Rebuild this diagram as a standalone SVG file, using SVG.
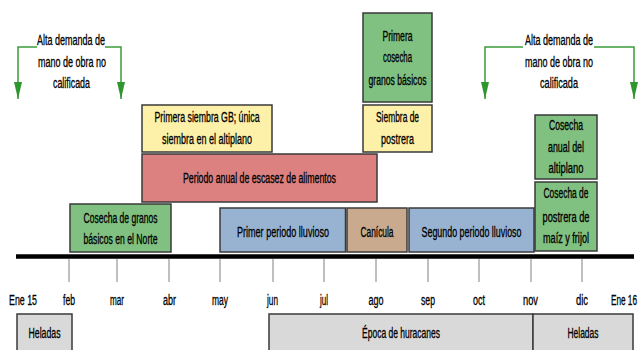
<svg xmlns="http://www.w3.org/2000/svg" width="642" height="350" viewBox="0 0 642 350">
<style>
text{font-family:"Liberation Sans Narrow","Liberation Sans",Arial,sans-serif;font-size:14px;fill:#000;text-anchor:middle;stroke:#000;stroke-width:0.3}
.box{stroke:#3a3a3a;stroke-width:1.5}
.g{fill:#80c080}
.y{fill:#fdf0a8}
.r{fill:#dc8080}
.b{fill:#98b3d2}
.t{fill:#c9aa8f}
.gr{fill:#d9d9d9}
.tick{stroke:#808080;stroke-width:1}
.arr{fill:none;stroke:#3a9d3a;stroke-width:1.5}
</style>
<defs>
<marker id="ah" viewBox="0 0 17 8" refX="17" refY="4" markerWidth="17" markerHeight="8" markerUnits="userSpaceOnUse" orient="auto">
<path d="M0,0 L17,4 L0,8 z" fill="#2f962f"/>
</marker>
</defs>
<rect width="642" height="350" fill="#fff"/>

<g id="connectors">
<path class="arr" d="M37,47 H18 V99" marker-end="url(#ah)"/>
<path class="arr" d="M105,47 H121 V99" marker-end="url(#ah)"/>
<path class="arr" d="M523,47 H485 V99" marker-end="url(#ah)"/>
<path class="arr" d="M594,47 H634 V99" marker-end="url(#ah)"/>
</g>

<g id="demanda-izq">
<text x="71" y="45" textLength="68" lengthAdjust="spacingAndGlyphs">Alta demanda de</text>
<text x="72" y="67" textLength="68" lengthAdjust="spacingAndGlyphs">mano de obra no</text>
<text x="71.5" y="88" textLength="37" lengthAdjust="spacingAndGlyphs">calificada</text>
</g>
<g id="demanda-der">
<text x="559" y="45" textLength="68" lengthAdjust="spacingAndGlyphs">Alta demanda de</text>
<text x="559" y="67" textLength="68" lengthAdjust="spacingAndGlyphs">mano de obra no</text>
<text x="559" y="88" textLength="38" lengthAdjust="spacingAndGlyphs">calificada</text>
</g>

<g id="primera-cosecha">
<rect class="box g" x="363" y="13" width="69" height="89"/>
<text x="397.5" y="41" textLength="30" lengthAdjust="spacingAndGlyphs">Primera</text>
<text x="397.5" y="62" textLength="29" lengthAdjust="spacingAndGlyphs">cosecha</text>
<text x="397.5" y="85" textLength="58" lengthAdjust="spacingAndGlyphs">granos básicos</text>
</g>
<g id="siembra-postrera">
<rect class="box y" x="363" y="105" width="69" height="47"/>
<text x="397.5" y="122" textLength="43" lengthAdjust="spacingAndGlyphs">Siembra de</text>
<text x="397.5" y="144" textLength="33" lengthAdjust="spacingAndGlyphs">postrera</text>
</g>
<g id="primera-siembra">
<rect class="box y" x="142" y="105" width="130" height="47"/>
<text x="207" y="122" textLength="105" lengthAdjust="spacingAndGlyphs">Primera siembra GB; única</text>
<text x="207" y="144" textLength="90" lengthAdjust="spacingAndGlyphs">siembra en el altiplano</text>
</g>
<g id="escasez">
<rect class="box r" x="142" y="154" width="235" height="48"/>
<text x="259.5" y="183" textLength="153" lengthAdjust="spacingAndGlyphs">Periodo anual de escasez de alimentos</text>
</g>
<g id="cosecha-altiplano">
<rect class="box g" x="535" y="115" width="62" height="64"/>
<text x="566" y="130" textLength="34" lengthAdjust="spacingAndGlyphs">Cosecha</text>
<text x="566" y="152" textLength="36" lengthAdjust="spacingAndGlyphs">anual del</text>
<text x="566" y="173" textLength="35" lengthAdjust="spacingAndGlyphs">altiplano</text>
</g>
<g id="cosecha-postrera">
<rect class="box g" x="535" y="182" width="62" height="69"/>
<text x="566" y="198" textLength="45" lengthAdjust="spacingAndGlyphs">Cosecha de</text>
<text x="566" y="222" textLength="47" lengthAdjust="spacingAndGlyphs">postrera de</text>
<text x="566" y="243" textLength="46" lengthAdjust="spacingAndGlyphs">maíz y frijol</text>
</g>
<g id="cosecha-norte">
<rect class="box g" x="70" y="204" width="101" height="48"/>
<text x="120.5" y="223" textLength="74" lengthAdjust="spacingAndGlyphs">Cosecha de granos</text>
<text x="120.5" y="244" textLength="74" lengthAdjust="spacingAndGlyphs">básicos en el Norte</text>
</g>
<g id="primer-lluvioso">
<rect class="box b" x="220" y="208" width="125.5" height="44"/>
<text x="283" y="237" textLength="92" lengthAdjust="spacingAndGlyphs">Primer periodo lluvioso</text>
</g>
<g id="canicula">
<rect class="box t" x="347" y="208" width="60" height="44"/>
<text x="377" y="237" textLength="33" lengthAdjust="spacingAndGlyphs">Canícula</text>
</g>
<g id="segundo-lluvioso">
<rect class="box b" x="409" y="208" width="125" height="44"/>
<text x="471.5" y="237" textLength="100" lengthAdjust="spacingAndGlyphs">Segundo periodo lluvioso</text>
</g>

<g id="timeline">
<line x1="16" y1="256.5" x2="634" y2="256.5" stroke="#000" stroke-width="4.5"/>
<line class="tick" x1="69" y1="259" x2="69" y2="282"/>
<line class="tick" x1="117" y1="259" x2="117" y2="282"/>
<line class="tick" x1="169" y1="259" x2="169" y2="282"/>
<line class="tick" x1="220" y1="259" x2="220" y2="282"/>
<line class="tick" x1="273" y1="259" x2="273" y2="282"/>
<line class="tick" x1="324" y1="259" x2="324" y2="282"/>
<line class="tick" x1="376" y1="259" x2="376" y2="282"/>
<line class="tick" x1="428" y1="259" x2="428" y2="282"/>
<line class="tick" x1="479" y1="259" x2="479" y2="282"/>
<line class="tick" x1="531" y1="259" x2="531" y2="282"/>
<line class="tick" x1="582" y1="259" x2="582" y2="282"/>
<text x="9" y="305" style="text-anchor:start" textLength="28" lengthAdjust="spacingAndGlyphs">Ene 15</text>
<text x="69" y="305" textLength="12" lengthAdjust="spacingAndGlyphs">feb</text>
<text x="117" y="305" textLength="14" lengthAdjust="spacingAndGlyphs">mar</text>
<text x="169.5" y="305" textLength="13" lengthAdjust="spacingAndGlyphs">abr</text>
<text x="220" y="305" textLength="16" lengthAdjust="spacingAndGlyphs">may</text>
<text x="272.5" y="305" textLength="11" lengthAdjust="spacingAndGlyphs">jun</text>
<text x="324" y="305" textLength="8" lengthAdjust="spacingAndGlyphs">jul</text>
<text x="376" y="305" textLength="15" lengthAdjust="spacingAndGlyphs">ago</text>
<text x="428" y="305" textLength="14" lengthAdjust="spacingAndGlyphs">sep</text>
<text x="479" y="305" textLength="12" lengthAdjust="spacingAndGlyphs">oct</text>
<text x="530.5" y="305" textLength="15" lengthAdjust="spacingAndGlyphs">nov</text>
<text x="582" y="305" textLength="12" lengthAdjust="spacingAndGlyphs">dic</text>
<text x="637" y="305" style="text-anchor:end" textLength="26" lengthAdjust="spacingAndGlyphs">Ene 16</text>
</g>

<g id="heladas-ini">
<rect class="box gr" x="17" y="314" width="55" height="42"/>
<text x="44.5" y="338" textLength="32" lengthAdjust="spacingAndGlyphs">Heladas</text>
</g>
<g id="huracanes">
<rect class="box gr" x="269" y="314" width="264" height="42"/>
<text x="401" y="338" textLength="78" lengthAdjust="spacingAndGlyphs">Época de huracanes</text>
</g>
<g id="heladas-fin">
<rect class="box gr" x="533" y="314" width="100" height="42"/>
<text x="583" y="338" textLength="31" lengthAdjust="spacingAndGlyphs">Heladas</text>
</g>
</svg>
